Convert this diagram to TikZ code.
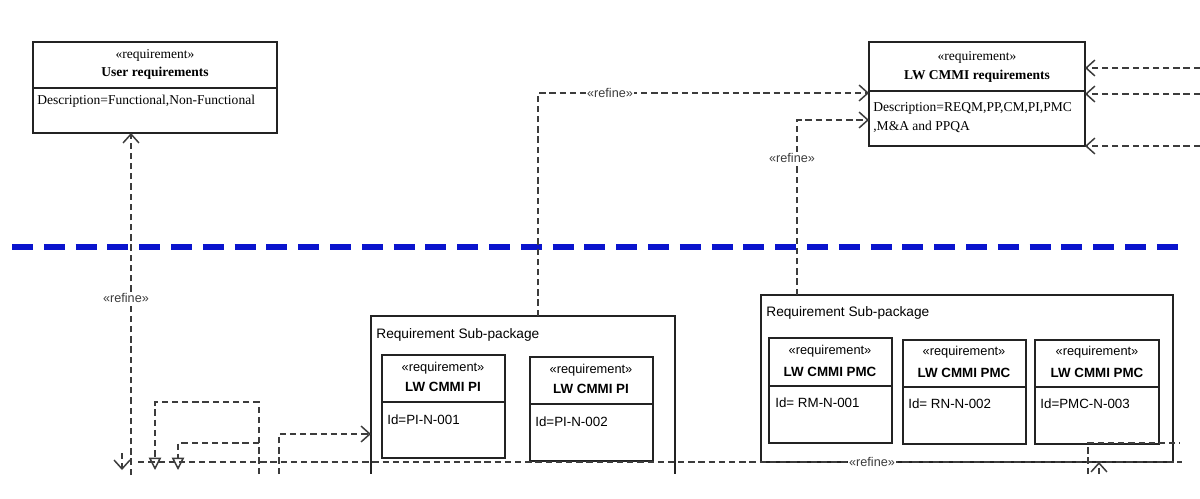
\documentclass[tikz,border=0pt]{standalone}
\usepackage{fontspec}
\setmainfont{Liberation Serif}
\setsansfont{Liberation Sans}
\usepackage{tikz}
\usepackage{xcolor}
\usetikzlibrary{arrows.meta}
\usetikzlibrary{positioning}

\definecolor{sepblue}{RGB}{10,20,205}
\definecolor{umlgray}{RGB}{35,35,35}
\definecolor{refgray}{RGB}{60,60,60}

\tikzset{
	boxline/.style={draw=umlgray, line width={1.1pt}},
	reqbox/.style={boxline, fill=white, anchor=north west, inner sep=0pt, outer sep=0pt},
	pkgbox/.style={anchor=north west, inner sep=0pt, outer sep=0pt},
	serifst/.style={inner sep=0pt, font=\fontsize{7.7}{9}\selectfont},
	serifname/.style={inner sep=0pt, font=\fontsize{7.7}{9}\selectfont\bfseries},
	serifdesc/.style={inner sep=0pt, anchor=west, font=\fontsize{7.7}{9}\selectfont},
	sansst/.style={inner sep=0pt, font=\sffamily\fontsize{7.3}{9}\selectfont},
	sansname/.style={inner sep=0pt, font=\sffamily\fontsize{7.6}{9}\selectfont\bfseries},
	sansdesc/.style={inner sep=0pt, anchor=west, font=\sffamily\fontsize{7.6}{9}\selectfont},
	pkglabel/.style={inner sep=0pt, anchor=west, font=\sffamily\fontsize{7.8}{9}\selectfont},
	refline/.style={draw=refgray, line width={0.85pt}, dash pattern=on 3.6pt off 2.2pt},
	reflabel/.style={fill=white, inner sep=0.6pt, text=refgray, font=\sffamily\fontsize{7.2}{9}\selectfont},
	openhead/.style={-{Straight Barb[length=5pt, width=9pt]}},
	trihead/.style={-{Triangle[open, length=7pt, width=7pt]}},
	sepline/.style={draw=sepblue, line width={3.6pt}, dash pattern=on 11.9pt off 6.2pt}
}

\begin{document}
\begin{tikzpicture}[x={0.02cm}, y={-0.02cm}]
	\useasboundingbox (0,0) rectangle (1200,498);

	\begin{scope}
		\node[reqbox, minimum width={4.88cm}, minimum height={1.82cm}] (usr) at (33,42) {};
		\draw[boxline] ([yshift=-0.92cm]usr.north west) -- ([yshift=-0.92cm]usr.north east);
		\node[serifst] (usrst) at (155,55) {«requirement»};
		\node[serifname] (usrname) at (155,73) {User requirements};
		\node[serifdesc] (usrdesc) at (37,101) {Description=Functional,Non-Functional};

		\node[reqbox, minimum width={4.32cm}, minimum height={2.08cm}] (lw) at (869,42) {};
		\draw[boxline] ([yshift=-0.98cm]lw.north west) -- ([yshift=-0.98cm]lw.north east);
		\node[serifst] (lwst) at (977,57) {«requirement»};
		\node[serifname] (lwname) at (977,76) {LW CMMI requirements};
		\node[serifdesc] (lwdesc) at (873,108) {Description=REQM,PP,CM,PI,PMC};
		\node[serifdesc] (lwdescb) at (873,127) {,M\&A and PPQA};
	\end{scope}

	\coordinate (sepL) at (12,247);
	\coordinate (sepR) at (1182,247);
	\draw[sepline] (sepL) -- (sepR);

	\begin{scope}
		\node[pkgbox, minimum width={6.08cm}, minimum height={3.16cm}] (pkg1) at (371,316) {};
		\draw[boxline, line width={0.9pt}] (pkg1.south west) -- (pkg1.north west) -- (pkg1.north east) -- (pkg1.south east);
		\node[pkglabel] (pkg1lbl) at (376,335) {Requirement Sub-package};

		\node[pkgbox, boxline, line width={0.9pt}, minimum width={8.24cm}, minimum height={3.34cm}] (pkg2) at (761,295) {};
		\node[pkglabel] (pkg2lbl) at (766,313) {Requirement Sub-package};

		\node[reqbox, minimum width={2.46cm}, minimum height={2.06cm}] (pi1) at (382,355) {};
		\draw[boxline] ([yshift=-0.94cm]pi1.north west) -- ([yshift=-0.94cm]pi1.north east);
		\node[sansst] (pi1st) at (443,368) {«requirement»};
		\node[sansname] (pi1name) at (443,387) {LW CMMI PI};
		\node[sansdesc] (pi1id) at (387,420) {Id=PI-N-001};

		\node[reqbox, minimum width={2.46cm}, minimum height={2.08cm}] (pi2) at (530,357) {};
		\draw[boxline] ([yshift=-0.94cm]pi2.north west) -- ([yshift=-0.94cm]pi2.north east);
		\node[sansst] (pi2st) at (591,370) {«requirement»};
		\node[sansname] (pi2name) at (591,389) {LW CMMI PI};
		\node[sansdesc] (pi2id) at (535,422) {Id=PI-N-002};

		\node[reqbox, minimum width={2.46cm}, minimum height={2.10cm}] (pmc1) at (769,338) {};
		\draw[boxline] ([yshift=-0.96cm]pmc1.north west) -- ([yshift=-0.96cm]pmc1.north east);
		\node[sansst] (pmc1st) at (830,351) {«requirement»};
		\node[sansname] (pmc1name) at (830,372) {LW CMMI PMC};
		\node[sansdesc] (pmc1id) at (775,403) {Id= RM-N-001};

		\node[reqbox, minimum width={2.46cm}, minimum height={2.08cm}] (pmc2) at (903,340) {};
		\draw[boxline] ([yshift=-0.94cm]pmc2.north west) -- ([yshift=-0.94cm]pmc2.north east);
		\node[sansst] (pmc2st) at (964,352) {«requirement»};
		\node[sansname] (pmc2name) at (964,373) {LW CMMI PMC};
		\node[sansdesc] (pmc2id) at (908,404) {Id= RN-N-002};

		\node[reqbox, minimum width={2.48cm}, minimum height={2.08cm}] (pmc3) at (1035,340) {};
		\draw[boxline] ([yshift=-0.94cm]pmc3.north west) -- ([yshift=-0.94cm]pmc3.north east);
		\node[sansst] (pmc3st) at (1097,352) {«requirement»};
		\node[sansname] (pmc3name) at (1097,373) {LW CMMI PMC};
		\node[sansdesc] (pmc3id) at (1040,404) {Id=PMC-N-003};
	\end{scope}

	\begin{scope}
		\coordinate (usrfoot) at (131,475);
		\draw[refline, openhead] (usrfoot) -- (usr.south -| usrfoot);
		\node[reflabel] (usrref) at (126,298) {«refine»};

		\coordinate (pibend) at (538,93);
		\draw[refline, openhead] (pkg1.north -| pibend) -- (pibend) -- (lw.west |- pibend);
		\node[reflabel] (piref) at (610,93) {«refine»};

		\coordinate (pmcbend) at (797,120);
		\draw[refline, openhead] (pkg2.north -| pmcbend) -- (pmcbend) -- (lw.west |- pmcbend);
		\node[reflabel] (pmcref) at (792,158) {«refine»};

		\coordinate (inA) at (1200,68);
		\coordinate (inB) at (1200,94);
		\coordinate (inC) at (1200,146);
		\draw[refline, openhead] (inA) -- (lw.east |- inA);
		\draw[refline, openhead] (inB) -- (lw.east |- inB);
		\draw[refline, openhead] (inC) -- (lw.east |- inC);

		\coordinate (botL) at (138,462);
		\coordinate (botR) at (1182,462);
		\draw[refline] (botL) -- (botR);
		\node[reflabel] (botref) at (872,462) {«refine»};

		\coordinate (vtop) at (122,453);
		\coordinate (vtip) at (122,470);
		\draw[refline, openhead] (vtop) -- (vtip);

		\coordinate (loopA) at (259,474);
		\coordinate (loopAtop) at (259,402);
		\coordinate (loopAtip) at (155,470);
		\draw[refline, trihead] (loopA) -- (loopAtop) -| (loopAtip);

		\coordinate (loopB) at (259,443);
		\coordinate (loopBtip) at (178,470);
		\draw[refline, trihead] (loopB) -| (loopBtip);

		\coordinate (piin) at (279,474);
		\coordinate (piinbend) at (279,434);
		\draw[refline, openhead] (piin) -- (piinbend) -- (pkg1.west |- piinbend);

		\coordinate (pmcfoot) at (1088,474);
		\coordinate (pmcbendb) at (1088,443);
		\coordinate (pmcend) at (1180,443);
		\draw[refline] (pmcfoot) -- (pmcbendb) -- (pmcend);

		\coordinate (pmcup) at (1099,474);
		\draw[refline, openhead] (pmcup) -- (pkg2.south -| pmcup);
	\end{scope}
\end{tikzpicture}
\end{document}
